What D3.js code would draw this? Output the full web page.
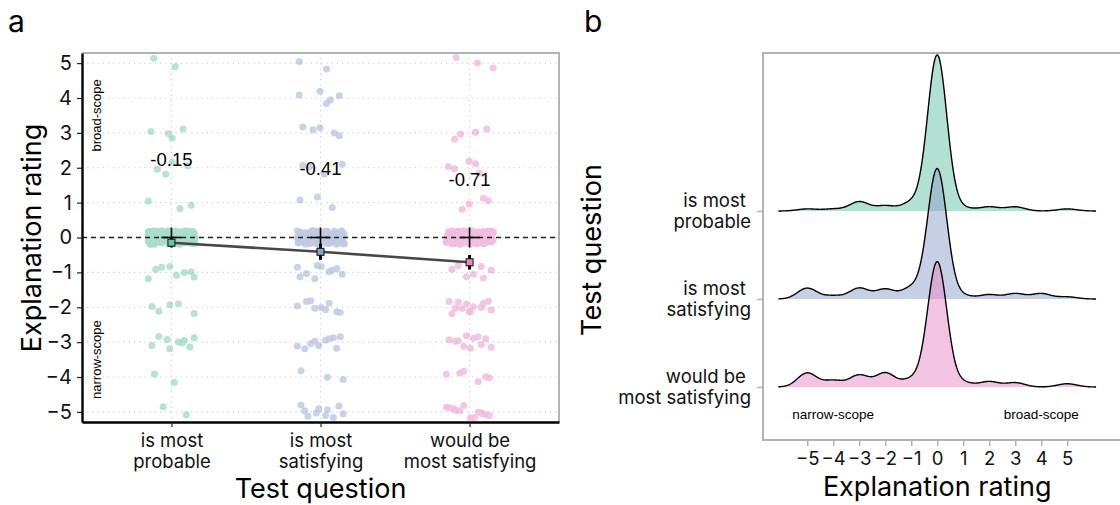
<!DOCTYPE html>
<html>
<head>
<meta charset="utf-8">
<script src="https://cdn.jsdelivr.net/npm/d3@7"></script>
<style>
  body { margin: 0; background: #fff; }
  svg text { font-family: Inter, "Noto Sans", sans-serif; }
  .ann { font-family: "Liberation Sans", Arial, sans-serif; }
</style>
</head>
<body>
<div id="chart"></div>
<script>
/* DATA */
const questions = ["is most probable", "is most satisfying", "would be most satisfying"];
const tickLinesA = [["is most", "probable"], ["is most", "satisfying"], ["would be", "most satisfying"]];
const tickLinesB = [["is most\u00a0", "probable"], ["is most\u00a0", "satisfying"], ["would be\u00a0", "most satisfying"]];
const ratings = [-5, -4, -3, -2, -1, 0, 1, 2, 3, 4, 5];
// number of answers per rating (-5 .. 5)
const countsProbable   = [2, 2, 9, 5, 8, 150, 3, 4, 4, 0, 2];
const countsSatisfying = [10, 3, 10, 9, 10, 120, 3, 4, 5, 5, 2];
const countsWouldBe    = [13, 6, 11, 13, 7, 116, 4, 5, 4, 0, 3];
const means = [-0.15, -0.41, -0.71];
const meanLabels = ["-0.15", "-0.41", "-0.71"];
const stdErrs = [0.13, 0.23, 0.21];
const colors = ["#66c2a5", "#8da0cb", "#e78ac3"];
// hand-made jitter table (unit offsets)
const jitterX = [0.62,-0.35,0.88,-0.71,0.12,-0.94,0.45,-0.18,0.77,-0.53,0.29,-0.82,0.95,-0.07,0.54,-0.66,0.21,-0.41,0.83,-0.97,0.36,-0.24,0.68,-0.59,0.03,-0.86,0.49,-0.13,0.91,-0.47,0.16,-0.74,0.58,-0.31,0.79,-0.02,0.41,-0.89,0.25,-0.63,0.72,-0.38,0.07,-0.79,0.99,-0.56,0.33,-0.15];
const jitterY = [-0.41,0.73,0.08,-0.92,0.55,-0.17,0.86,-0.63,0.31,0.97,-0.28,0.44,-0.79,0.15,-0.52,0.68,-0.05,0.91,-0.36,0.22,-0.84,0.59,-0.11,0.38,-0.69,0.82,0.02,-0.47,0.64,-0.95,0.27,-0.21,0.77,-0.58,0.49,0.12,-0.88,0.35,-0.33,0.93,-0.74,0.19,0.57,-0.14,-0.66,0.84,-0.02,0.46];

const allCounts = [countsProbable, countsSatisfying, countsWouldBe];

/* CONSTANTS */
const width = 1120, height = 505;
const bw = 0.37;
const mainFont = "Inter, 'Noto Sans', sans-serif";

const svg = d3.select("#chart").append("svg")
  .attr("width", width).attr("height", height);

// panel letters
svg.append("text").attr("x", 8).attr("y", 32).attr("font-size", 30).text("a");
svg.append("text").attr("x", 584).attr("y", 32).attr("font-size", 30).text("b");

/* PANEL A */
const ax = d3.scalePoint().domain(questions).range([82, 559]).padding(0.6);
const ay = d3.scaleLinear().domain([-5.29, 5.29]).range([422, 53]);
const ga = svg.append("g");

// grid
ga.selectAll(".hgrid").data(d3.range(-5, 6)).join("line")
  .attr("x1", 82).attr("x2", 559)
  .attr("y1", d => ay(d)).attr("y2", d => ay(d))
  .attr("stroke", "#cfcfcf").attr("stroke-width", 1.2).attr("stroke-dasharray", "1.2,4");
ga.selectAll(".vgrid").data(questions).join("line")
  .attr("x1", d => ax(d)).attr("x2", d => ax(d))
  .attr("y1", 53).attr("y2", 422)
  .attr("stroke", "#cfcfcf").attr("stroke-width", 1.2).attr("stroke-dasharray", "1.2,4");

// jittered points
const points = [];
allCounts.forEach((counts, g) => {
  ratings.forEach((r, k) => {
    for (let j = 0; j < counts[k]; j++) {
      const ix = (j + 7 * g + 3 * k) % jitterX.length;
      const iy = (j + Math.floor(j / jitterY.length) * 17 + 5 * g + 11 * k) % jitterY.length;
      points.push({ g, q: questions[g], r, dx: jitterX[ix] * 0.16, dy: jitterY[iy] * 0.2 });
    }
  });
});
const step = ax.step();
questions.forEach((q, g) => {
  ga.append("g").attr("opacity", 0.55)
    .selectAll("circle").data(points.filter(p => p.g === g)).join("circle")
    .attr("cx", d => ax(d.q) + d.dx * step)
    .attr("cy", d => ay(d.r + d.dy))
    .attr("r", 3.5)
    .attr("fill", colors[g]).attr("fill-opacity", 0.85);
});

// zero line
ga.append("line").attr("x1", 82).attr("x2", 559).attr("y1", ay(0)).attr("y2", ay(0))
  .attr("stroke", "#222").attr("stroke-width", 1.3).attr("stroke-dasharray", "5,4");

// crosses at 0
questions.forEach(q => {
  ga.append("line").attr("x1", ax(q) - 10).attr("x2", ax(q) + 10).attr("y1", ay(0)).attr("y2", ay(0))
    .attr("stroke", "#000").attr("stroke-width", 1.6);
  ga.append("line").attr("x1", ax(q)).attr("x2", ax(q)).attr("y1", ay(0) - 10).attr("y2", ay(0) + 10)
    .attr("stroke", "#000").attr("stroke-width", 1.6);
});

// mean line
ga.append("path")
  .datum(means)
  .attr("fill", "none").attr("stroke", "#474747").attr("stroke-width", 2.6)
  .attr("d", d3.line().x((d, i) => ax(questions[i])).y(d => ay(d)));

// error bars + mean squares
means.forEach((m, i) => {
  const x = ax(questions[i]);
  ga.append("line").attr("x1", x).attr("x2", x)
    .attr("y1", ay(m - stdErrs[i])).attr("y2", ay(m + stdErrs[i]))
    .attr("stroke", "#000").attr("stroke-width", 3);
  ga.append("rect").attr("x", x - 3.5).attr("y", ay(m) - 3.5).attr("width", 7).attr("height", 7)
    .attr("fill", colors[i]).attr("stroke", "#111").attr("stroke-width", 1);
  ga.append("text").attr("class", "ann")
    .attr("x", x).attr("y", ay(m + 2.38)).attr("dy", "0.35em")
    .attr("text-anchor", "middle").attr("font-size", 18.5)
    .text(meanLabels[i]);
});

// scope annotations
ga.append("text").attr("class", "ann").attr("font-size", 13)
  .attr("transform", `translate(101,${ay(3.5)}) rotate(-90)`)
  .attr("text-anchor", "middle").text("broad-scope");
ga.append("text").attr("class", "ann").attr("font-size", 13)
  .attr("transform", `translate(101,${ay(-3.5)}) rotate(-90)`)
  .attr("text-anchor", "middle").text("narrow-scope");

// border top/right
ga.append("path").attr("d", "M82,53H559V422").attr("fill", "none")
  .attr("stroke", "#b3b3b3").attr("stroke-width", 2);

// axes
const yAxisA = ga.append("g").attr("transform", "translate(82,0)")
  .call(d3.axisLeft(ay).tickValues(d3.range(-5, 6)).tickSize(5).tickSizeOuter(0).tickPadding(5));
yAxisA.selectAll("text").attr("font-size", 20).attr("font-family", mainFont).attr("fill", "#111");
yAxisA.select(".domain").attr("stroke", "#000").attr("stroke-width", 2.4);
yAxisA.selectAll(".tick line").attr("stroke", "#222").attr("stroke-width", 1.2);

const xAxisA = ga.append("g").attr("transform", "translate(0,422)")
  .call(d3.axisBottom(ax).tickSize(5).tickSizeOuter(0));
xAxisA.select(".domain").attr("stroke", "#000").attr("stroke-width", 2.6);
xAxisA.selectAll(".tick line").attr("stroke", "#222").attr("stroke-width", 1.2);
xAxisA.selectAll(".tick text").each(function (d) {
  const lines = tickLinesA[questions.indexOf(d)];
  const t = d3.select(this).text(null).attr("y", 0).attr("dy", null)
    .attr("font-size", 18.5).attr("font-family", mainFont).attr("fill", "#111");
  lines.forEach((l, i) => t.append("tspan").attr("x", 0).attr("y", 25 + i * 21).text(l));
});

// titles
svg.append("text").attr("transform", "translate(41,238) rotate(-90)")
  .attr("text-anchor", "middle").attr("font-size", 27).text("Explanation rating");
svg.append("text").attr("x", ax(questions[1])).attr("y", 498)
  .attr("text-anchor", "middle").attr("font-size", 27).text("Test question");

/* PANEL B */
const bx = d3.scaleLinear().domain([-6.7, 7.2]).range([763, 763 + 13.9 * 26]);
const by = d3.scalePoint().domain(questions).range([211, 387]);
const gb = svg.append("g");

const grid = d3.range(-5 - 3 * bw, 5 + 3 * bw + 1e-9, 0.02);
const gauss = u => Math.exp(-0.5 * u * u) / Math.sqrt(2 * Math.PI);
const dens = allCounts.map(counts => {
  const n = d3.sum(counts);
  return grid.map(x => [x, d3.sum(ratings, (r, k) => counts[k] * gauss((x - r) / bw)) / (n * bw)]);
});
const maxD = d3.max(dens, d => d3.max(d, p => p[1]));
const hs = d3.scaleLinear().domain([0, maxD]).range([0, 156]);

dens.forEach((d, i) => {
  const base = by(questions[i]);
  gb.append("path").datum(d)
    .attr("fill", colors[i]).attr("fill-opacity", 0.5)
    .attr("d", d3.area().x(p => bx(p[0])).y0(base).y1(p => base - hs(p[1])));
  gb.append("path").datum(d)
    .attr("fill", "none").attr("stroke", "#000").attr("stroke-width", 1.4)
    .attr("d", d3.line().x(p => bx(p[0])).y(p => base - hs(p[1])));
});

gb.append("text").attr("class", "ann").attr("x", bx(-4)).attr("y", by(questions[2]) + 27)
  .attr("dy", "0.35em").attr("text-anchor", "middle").attr("font-size", 13.5).text("narrow-scope");
gb.append("text").attr("class", "ann").attr("x", bx(4)).attr("y", by(questions[2]) + 27)
  .attr("dy", "0.35em").attr("text-anchor", "middle").attr("font-size", 13.5).text("broad-scope");

// border
gb.append("path").attr("d", "M1125,53H763V440H1125").attr("fill", "none")
  .attr("stroke", "#b3b3b3").attr("stroke-width", 2);

const xAxisB = gb.append("g").attr("transform", "translate(0,440)")
  .call(d3.axisBottom(bx).tickValues(d3.range(-5, 6)).tickSize(6).tickSizeOuter(0).tickPadding(6));
xAxisB.select(".domain").remove();
xAxisB.selectAll(".tick line").attr("stroke", "#b3b3b3").attr("stroke-width", 1.5);
xAxisB.selectAll("text").attr("font-size", 18.5).attr("font-family", mainFont).attr("fill", "#111");

const yAxisB = gb.append("g").attr("transform", "translate(763,0)")
  .call(d3.axisLeft(by).tickSize(6).tickSizeOuter(0));
yAxisB.select(".domain").remove();
yAxisB.selectAll(".tick line").attr("stroke", "#b3b3b3").attr("stroke-width", 1.5);
yAxisB.selectAll(".tick text").each(function (d) {
  const lines = tickLinesB[questions.indexOf(d)];
  const t = d3.select(this).text(null).attr("x", -12).attr("dy", null)
    .attr("font-size", 18.5).attr("font-family", mainFont).attr("fill", "#111");
  lines.forEach((l, i) => t.append("tspan").attr("x", -12).attr("y", -5 + i * 21).text(l));
});

svg.append("text").attr("transform", "translate(601,250) rotate(-90)")
  .attr("text-anchor", "middle").attr("font-size", 27).text("Test question");
svg.append("text").attr("x", bx(0)).attr("y", 496)
  .attr("text-anchor", "middle").attr("font-size", 27).text("Explanation rating");
</script>
</body>
</html>
